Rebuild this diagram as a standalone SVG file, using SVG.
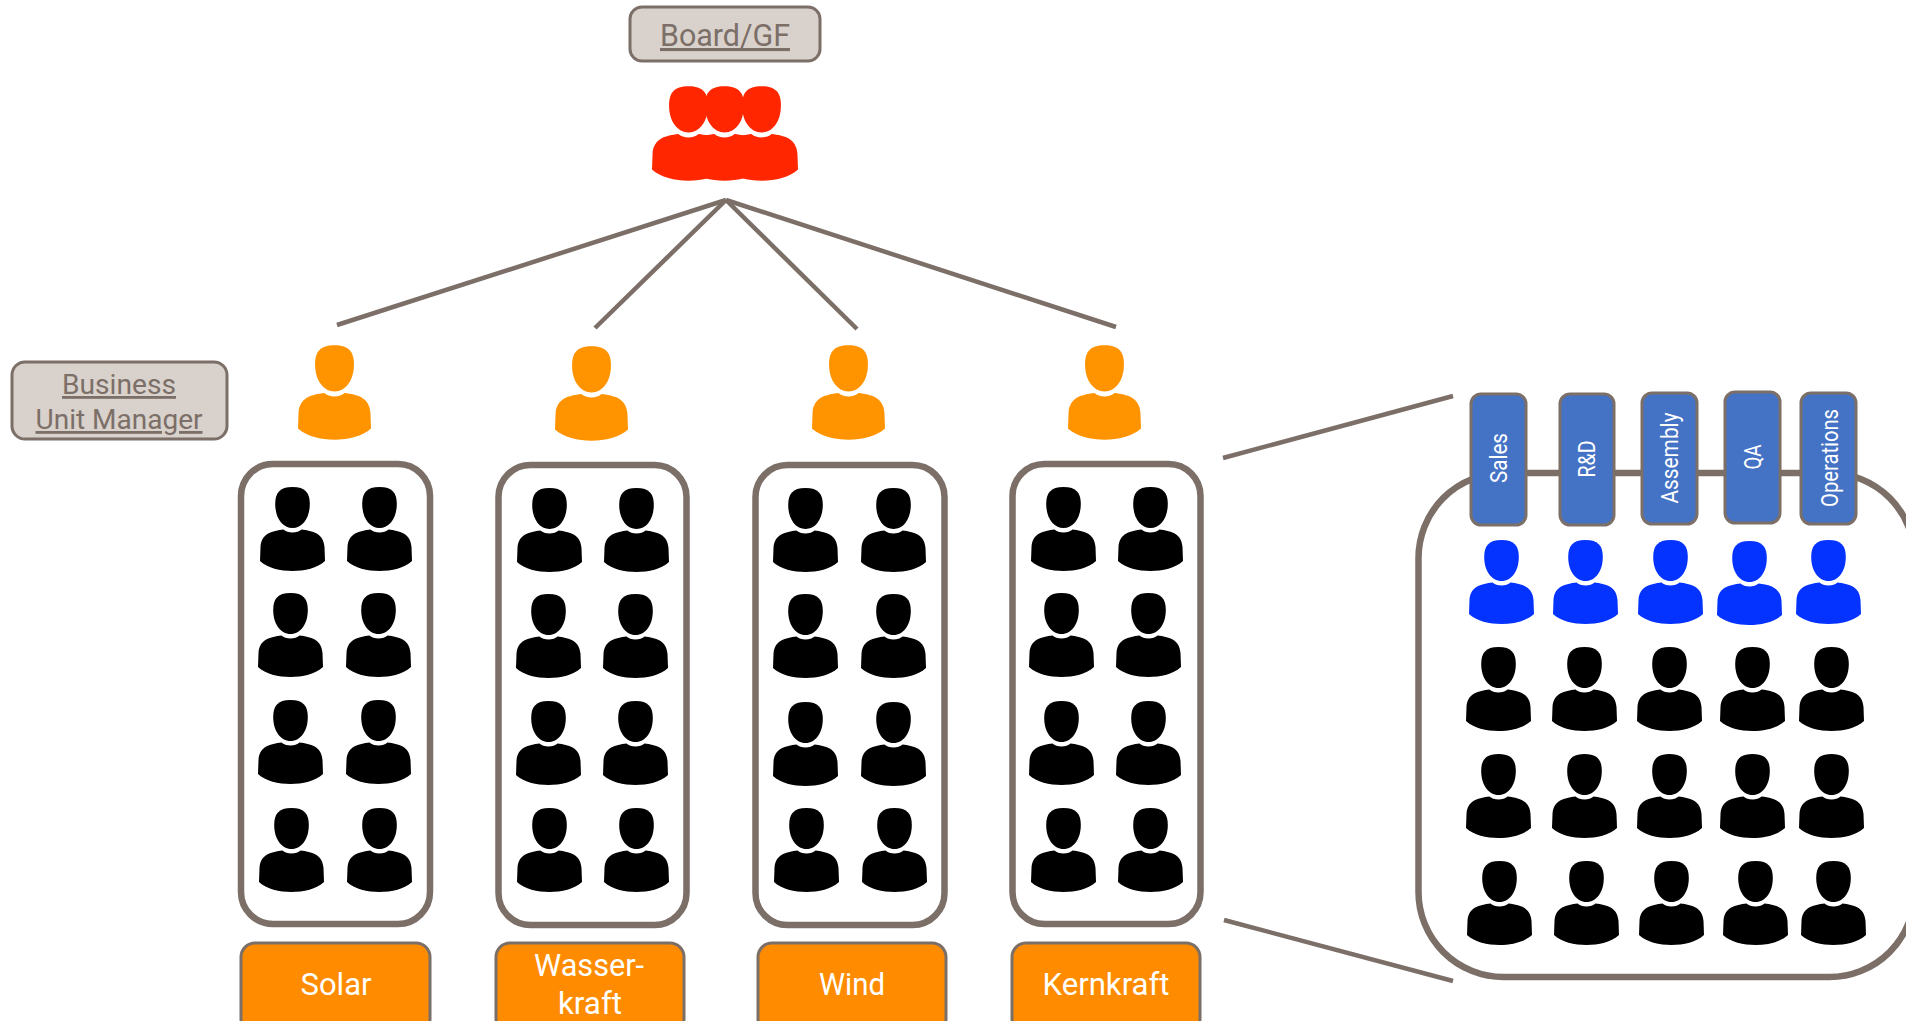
<svg xmlns="http://www.w3.org/2000/svg" xmlns:xlink="http://www.w3.org/1999/xlink" width="1906" height="1021" viewBox="0 0 1906 1021">
<style>
text{font-family:"Roboto","Liberation Sans",sans-serif}
.frame{fill:#fff;stroke:#7b6f68;stroke-width:6.500}
.role{fill:#d9d1cb;stroke:#7b6f68;stroke-width:3}
.roleT{fill:#7b6f68;text-anchor:middle;text-decoration:underline}
.bu{fill:#ff8c00;stroke:#7b6f68;stroke-width:3}
.buT{fill:#fff;font-size:32px;text-anchor:middle}
.dept{fill:#4472c4;stroke:#7b6f68;stroke-width:3}
.deptT{fill:#fff;font-size:24px;text-anchor:middle}
.link{stroke:#7b6f68;stroke-width:4.500;fill:none}
</style>
<defs>
<symbol id="person" overflow="visible" viewBox="-32.5 0 65 84" width="65" height="84">
<path d="M0 0C13 0 17.300 6 17.300 17C17.300 31 10 41 0 41C-10 41-17.300 31-17.300 17C-17.300 6-13 0 0 0Z"/>
<path d="M-9 42.500C-5 46.500 5 46.500 9 42.500C20 44 31 46 32 60L32.500 74C25 81 12 84 0 84C-12 84-25 81-32.500 74L-32 60C-31 46-20 44-9 42.500Z"/>
</symbol>
</defs>
<g id="connectors">
<line class="link" x1="726" y1="200" x2="337" y2="325"/>
<line class="link" x1="726" y1="200" x2="595" y2="328"/>
<line class="link" x1="726" y1="200" x2="857" y2="329"/>
<line class="link" x1="726" y1="200" x2="1116" y2="327"/>
<line class="link" x1="1223" y1="458" x2="1453" y2="396"/>
<line class="link" x1="1224" y1="920" x2="1453" y2="981"/>
</g>
<g id="board-label"><rect class="role" x="630" y="7" width="190" height="54" rx="12"/><text class="roleT" x="725" y="46" font-size="31" textLength="130" lengthAdjust="spacingAndGlyphs">Board/GF</text></g>
<g id="board" fill="#ff2600">
<use xlink:href="#person" href="#person" x="652" y="86" width="73" height="95"/>
<use xlink:href="#person" href="#person" x="688" y="86" width="73" height="95"/>
<use xlink:href="#person" href="#person" x="725" y="86" width="73" height="95"/>
</g>
<g id="manager-label"><rect class="role" x="12" y="362" width="215" height="77" rx="13"/><text class="roleT" x="119" y="394" font-size="28" textLength="114" lengthAdjust="spacingAndGlyphs">Business</text><text class="roleT" x="119" y="429" font-size="28" textLength="167" lengthAdjust="spacingAndGlyphs">Unit Manager</text></g>
<g id="managers" fill="#ff9300">
<use xlink:href="#person" href="#person" x="298" y="345" width="73" height="95"/>
<use xlink:href="#person" href="#person" x="555" y="346" width="73" height="95"/>
<use xlink:href="#person" href="#person" x="812" y="345" width="73" height="95"/>
<use xlink:href="#person" href="#person" x="1068" y="345" width="73" height="95"/>
</g>
<g id="unit-solar"><rect class="frame" x="241" y="464" width="189" height="460" rx="32"/>
<use xlink:href="#person" href="#person" x="260" y="487"/><use xlink:href="#person" href="#person" x="347" y="487"/>
<use xlink:href="#person" href="#person" x="258" y="593"/><use xlink:href="#person" href="#person" x="346" y="593"/>
<use xlink:href="#person" href="#person" x="258" y="700"/><use xlink:href="#person" href="#person" x="346" y="700"/>
<use xlink:href="#person" href="#person" x="259" y="808"/><use xlink:href="#person" href="#person" x="347" y="808"/>
</g>
<g id="unit-wasserkraft"><rect class="frame" x="498.500" y="465" width="188" height="460" rx="32"/>
<use xlink:href="#person" href="#person" x="517" y="488"/><use xlink:href="#person" href="#person" x="604" y="488"/>
<use xlink:href="#person" href="#person" x="516" y="594"/><use xlink:href="#person" href="#person" x="603" y="594"/>
<use xlink:href="#person" href="#person" x="516" y="701"/><use xlink:href="#person" href="#person" x="603" y="701"/>
<use xlink:href="#person" href="#person" x="517" y="808"/><use xlink:href="#person" href="#person" x="604" y="808"/>
</g>
<g id="unit-wind"><rect class="frame" x="755.500" y="465" width="189" height="460" rx="32"/>
<use xlink:href="#person" href="#person" x="773" y="488"/><use xlink:href="#person" href="#person" x="861" y="488"/>
<use xlink:href="#person" href="#person" x="773" y="594"/><use xlink:href="#person" href="#person" x="861" y="594"/>
<use xlink:href="#person" href="#person" x="773" y="702"/><use xlink:href="#person" href="#person" x="861" y="702"/>
<use xlink:href="#person" href="#person" x="774" y="808"/><use xlink:href="#person" href="#person" x="862" y="808"/>
</g>
<g id="unit-kernkraft"><rect class="frame" x="1012.500" y="464" width="188" height="460" rx="32"/>
<use xlink:href="#person" href="#person" x="1031" y="487"/><use xlink:href="#person" href="#person" x="1118" y="487"/>
<use xlink:href="#person" href="#person" x="1029" y="593"/><use xlink:href="#person" href="#person" x="1116" y="593"/>
<use xlink:href="#person" href="#person" x="1029" y="701"/><use xlink:href="#person" href="#person" x="1116" y="701"/>
<use xlink:href="#person" href="#person" x="1031" y="808"/><use xlink:href="#person" href="#person" x="1118" y="808"/>
</g>
<g id="bu-solar"><rect class="bu" x="241" y="943" width="189" height="90" rx="14"/><text class="buT" x="336" y="995" textLength="71" lengthAdjust="spacingAndGlyphs">Solar</text></g>
<g id="bu-wasserkraft"><rect class="bu" x="496" y="943" width="188" height="90" rx="14"/><text class="buT" x="589" y="976" textLength="110" lengthAdjust="spacingAndGlyphs">Wasser-</text><text class="buT" x="590" y="1014" textLength="64" lengthAdjust="spacingAndGlyphs">kraft</text></g>
<g id="bu-wind"><rect class="bu" x="758" y="943" width="188" height="90" rx="14"/><text class="buT" x="852" y="995" textLength="66" lengthAdjust="spacingAndGlyphs">Wind</text></g>
<g id="bu-kernkraft"><rect class="bu" x="1012" y="943" width="188" height="90" rx="14"/><text class="buT" x="1106" y="995" textLength="127" lengthAdjust="spacingAndGlyphs">Kernkraft</text></g>
<g id="detail-frame"><rect class="frame" x="1418.500" y="473" width="496" height="504" rx="85"/></g>
<g id="dept-sales"><rect class="dept" x="1471" y="394" width="55" height="131" rx="10"/><text class="deptT" transform="translate(1507 458) rotate(-90)" textLength="50" lengthAdjust="spacingAndGlyphs">Sales</text></g>
<g id="dept-rd"><rect class="dept" x="1560" y="394" width="54" height="131" rx="10"/><text class="deptT" transform="translate(1595 459) rotate(-90)" textLength="37" lengthAdjust="spacingAndGlyphs">R&amp;D</text></g>
<g id="dept-assembly"><rect class="dept" x="1642" y="393" width="55" height="131" rx="10"/><text class="deptT" transform="translate(1678 458) rotate(-90)" textLength="91" lengthAdjust="spacingAndGlyphs">Assembly</text></g>
<g id="dept-qa"><rect class="dept" x="1725" y="392" width="55" height="131" rx="10"/><text class="deptT" transform="translate(1761 457) rotate(-90)" textLength="25" lengthAdjust="spacingAndGlyphs">QA</text></g>
<g id="dept-operations"><rect class="dept" x="1801" y="393" width="55" height="131" rx="10"/><text class="deptT" transform="translate(1838 458) rotate(-90)" textLength="98" lengthAdjust="spacingAndGlyphs">Operations</text></g>
<g id="dept-leads" fill="#0432ff">
<use xlink:href="#person" href="#person" x="1469" y="540"/><use xlink:href="#person" href="#person" x="1553" y="540"/><use xlink:href="#person" href="#person" x="1638" y="540"/><use xlink:href="#person" href="#person" x="1717" y="541"/><use xlink:href="#person" href="#person" x="1796" y="540"/>
</g>
<g id="dept-staff">
<use xlink:href="#person" href="#person" x="1466" y="647"/><use xlink:href="#person" href="#person" x="1552" y="647"/><use xlink:href="#person" href="#person" x="1637" y="647"/><use xlink:href="#person" href="#person" x="1720" y="647"/><use xlink:href="#person" href="#person" x="1799" y="647"/>
<use xlink:href="#person" href="#person" x="1466" y="754"/><use xlink:href="#person" href="#person" x="1552" y="754"/><use xlink:href="#person" href="#person" x="1637" y="754"/><use xlink:href="#person" href="#person" x="1720" y="754"/><use xlink:href="#person" href="#person" x="1799" y="754"/>
<use xlink:href="#person" href="#person" x="1467" y="861"/><use xlink:href="#person" href="#person" x="1554" y="861"/><use xlink:href="#person" href="#person" x="1639" y="861"/><use xlink:href="#person" href="#person" x="1723" y="861"/><use xlink:href="#person" href="#person" x="1801" y="861"/>
</g>
</svg>
